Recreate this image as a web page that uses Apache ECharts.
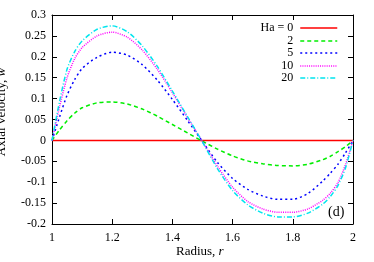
<!DOCTYPE html>
<html>
<head>
<meta charset="utf-8">
<script src="https://cdn.jsdelivr.net/npm/echarts@6/dist/echarts.min.js"></script>
<style>html,body{margin:0;padding:0;background:#fff;}#c{width:374px;height:262px;}</style>
</head>
<body>
<div id="c"></div>
<script>
var radius = [1, 1.025, 1.05, 1.075, 1.1, 1.15, 1.2, 1.25, 1.3, 1.35, 1.4, 1.45, 1.5, 1.55, 1.6, 1.65, 1.7, 1.75, 1.8, 1.85, 1.9, 1.925, 1.95, 1.975, 2];
var ha0 =  [0,0,0,0,0,0,0,0,0,0,0,0,0,0,0,0,0,0,0,0,0,0,0,0,0];
var ha2 =  [0, 0.025, 0.047, 0.065, 0.078, 0.090, 0.092, 0.087, 0.075, 0.058, 0.038, 0.018, -0.002, -0.021, -0.037, -0.049, -0.056, -0.060, -0.061, -0.057, -0.046, -0.038, -0.027, -0.015, 0];
var ha5 =  [0, 0.056, 0.108, 0.145, 0.172, 0.199, 0.211, 0.204, 0.181, 0.144, 0.098, 0.048, -0.003, -0.053, -0.091, -0.117, -0.133, -0.141, -0.141, -0.127, -0.097, -0.078, -0.057, -0.030, 0];
var ha10 = [0, 0.080, 0.150, 0.195, 0.222, 0.250, 0.259, 0.247, 0.216, 0.170, 0.114, 0.055, -0.003, -0.062, -0.112, -0.146, -0.164, -0.172, -0.172, -0.164, -0.143, -0.126, -0.101, -0.058, 0];
var ha20 = [0, 0.093, 0.170, 0.212, 0.238, 0.266, 0.274, 0.260, 0.226, 0.177, 0.118, 0.057, -0.004, -0.068, -0.120, -0.154, -0.174, -0.183, -0.183, -0.174, -0.152, -0.134, -0.108, -0.066, 0];
var seriesNames = ['Ha = 0', '2', '5', '10', '20'];
var seriesData = [ha0, ha2, ha5, ha10, ha20];
var colors = ['#ff0000', '#00ee00', '#0000ff', '#ff00ff', '#00e5ee'];
var dashes = ['solid', [4, 3], [2, 3], [1, 1.2], [5, 2, 1, 2]];

var font = 'Liberation Serif';
function pairs(arr) { return radius.map(function (r, i) { return [r, arr[i]]; }); }

var series = seriesData.map(function (d, i) {
  return {
    name: seriesNames[i], type: 'line', data: pairs(d), symbol: 'none', smooth: 0.25,
    lineStyle: { color: colors[i], width: 1.5, type: dashes[i] },
    itemStyle: { color: colors[i] }, z: 2 + i
  };
});

var rowTops = [22, 35, 47, 60, 72];
var legends = seriesNames.map(function (n, i) {
  return {
    data: [n], right: 36, top: rowTops[i], align: 'right', orient: 'vertical',
    itemWidth: 37, itemHeight: 12, itemGap: 0, padding: 0,
    itemStyle: { opacity: 0 },
    lineStyle: { width: 1.5 },
    textStyle: { fontFamily: font, fontSize: 12, color: '#000', padding: [0, 2, 0, 0] },
    selectedMode: false
  };
});

var axisCommon = {
  axisLine: { show: true, onZero: false, lineStyle: { color: '#000', width: 1 } },
  axisTick: { show: true, inside: true, length: 5, lineStyle: { color: '#000' } },
  splitLine: { show: false }
};

var chart = echarts.init(document.getElementById('c'), null, { renderer: 'canvas' });
chart.setOption({
  animation: false,
  backgroundColor: '#fff',
  grid: { left: 52, right: 21, top: 15, bottom: 38, containLabel: false },
  legend: legends,
  xAxis: [
    Object.assign({ type: 'value', min: 1, max: 2, interval: 0.2, position: 'bottom',
      axisLabel: { fontFamily: font, fontSize: 12, color: '#000', margin: 8 } }, axisCommon),
    Object.assign({ type: 'value', min: 1, max: 2, interval: 0.2, position: 'top',
      axisLabel: { show: false } }, axisCommon)
  ],
  yAxis: [
    Object.assign({ type: 'value', min: -0.2, max: 0.3, interval: 0.05, position: 'left',
      axisLabel: { fontFamily: font, fontSize: 12, color: '#000', margin: 6 } }, axisCommon),
    Object.assign({ type: 'value', min: -0.2, max: 0.3, interval: 0.05, position: 'right',
      axisLabel: { show: false } }, axisCommon)
  ],
  series: series,
  graphic: [
    { type: 'text', left: 176, top: 245, style: { rich: { n: { fontFamily: font, fontSize: 13, fill: '#000' }, i: { fontFamily: font, fontSize: 13, fontStyle: 'italic', fill: '#000' } }, text: '{n|Radius, }{i|r}' } },
    { type: 'text', x: 8, y: 112, rotation: Math.PI / 2, style: { rich: { n: { fontFamily: font, fontSize: 13, fill: '#000' }, i: { fontFamily: font, fontSize: 13, fontStyle: 'italic', fill: '#000' } }, text: '{n|Axial velocity, }{i|w}', align: 'center', verticalAlign: 'bottom' } },
    { type: 'text', left: 328, top: 205, style: { text: '(d)', fontFamily: font, fontSize: 14, fill: '#000' } }
  ]
});
</script>
</body>
</html>
